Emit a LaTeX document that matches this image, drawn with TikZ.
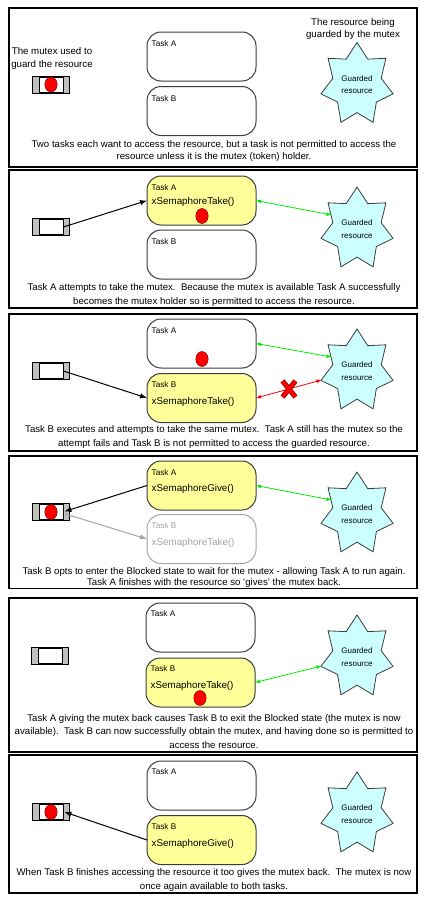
\documentclass[tikz,border=0pt]{standalone}
\usepackage{fontspec}
\setmainfont{Liberation Sans}
\usetikzlibrary{shapes.geometric,arrows.meta,calc}
\definecolor{taskyel}{RGB}{255,255,153}
\definecolor{starfill}{RGB}{204,255,255}
\definecolor{taskline}{RGB}{60,60,60}
\definecolor{mutexgray}{RGB}{192,192,192}
\definecolor{okgreen}{RGB}{0,235,0}
\definecolor{blockgray}{RGB}{165,165,165}
\definecolor{dotred}{RGB}{255,0,0}
% #1 name, #2 cx, #3 cy
\newcommand{\gstar}[3]{%
  \draw[starsty] ({#2},{#3-42})
    \foreach \k in {0,...,6}{
      -- ({#2+0.67*37*cos(90-\k*360/7-180/7)},{#3-0.67*42*sin(90-\k*360/7-180/7)})
      -- ({#2+37*cos(90-(\k+1)*360/7)},{#3-42*sin(90-(\k+1)*360/7)})
    } -- cycle;
  \node[startext] (#1) at (#2,#3) {Guarded\\resource};
  \coordinate (#1u) at ({#2-25.5},{#3-14});
  \coordinate (#1t) at ({#2-35.5},{#3+9});
}
\begin{document}
\begin{tikzpicture}[x=1pt,y=-1pt,
  panel/.style={draw=black, line width=1.3pt},
  task/.style={draw=taskline, line width=1pt, rounded corners=14pt, minimum width=109pt, minimum height=49pt, inner sep=0pt, outer sep=0pt, fill=white},
  active/.style={task, fill=taskyel},
  blocked/.style={task, draw=blockgray},
  tlabel/.style={anchor=west, inner sep=0pt, font=\fontsize{8.2}{10}\selectfont},
  fname/.style={anchor=west, inner sep=0pt, font=\fontsize{9.8}{11}\selectfont},
  caption/.style={align=center, inner sep=0pt, font=\fontsize{9.65}{13.5}\selectfont},
  toplabel/.style={align=center, inner sep=0pt, font=\fontsize{9.7}{12.5}\selectfont},
  mutexbox/.style={draw=black, line width=1pt, fill=mutexgray, minimum width=37pt, minimum height=17pt, inner sep=0pt},
  mutexin/.style={draw=black, line width=0.8pt, fill=white, minimum width=24pt, minimum height=15pt, inner sep=0pt},
  token/.style={ellipse, draw=black!60!red, line width=0.4pt, fill=dotred, minimum width=12.5pt, minimum height=15pt, inner sep=0pt},
  take/.style={draw=black, line width=1pt, -{Latex[length=7pt,width=5.5pt]}},
  access/.style={draw=okgreen, line width=0.8pt, {Latex[length=5pt,width=4pt]}-{Latex[length=5pt,width=4pt]}},
  startext/.style={align=center, inner sep=0pt, font=\fontsize{8}{12.5}\selectfont},
  starsty/.style={draw=taskline, line width=0.8pt, fill=starfill, line join=miter}
]
\useasboundingbox (0,0) rectangle (431,902);

% ---------------- Panel 1
\draw[panel] (9,8) rectangle (417,167);
\node[toplabel] (lm) at (52,58.5) {The mutex used to\\guard the resource};
\node[mutexbox] (m1) at (50.5,84.5) {};
\node[mutexin] (mi1) at (51,84.5) {};
\node[token] (d1) at (51,84.5) {};
\node[task] (a1) at (201.5,56.5) {};
\node[tlabel] (a1t) at (151.5,43.5) {Task A};
\node[task] (b1) at (201.5,111) {};
\node[tlabel] (b1t) at (151.5,98.5) {Task B};
\node[toplabel] (lr) at (353,29) {The resource being\\guarded by the mutex};
\gstar{s1}{357}{84.5}
\node[caption, font=\fontsize{9.65}{12}\selectfont] (c1) at (214,151) {Two tasks each want to access the resource, but a task is not permitted to access the\\resource unless it is the mutex (token) holder.};

% ---------------- Panel 2
\draw[panel] (9,170) rectangle (417,308);
\node[mutexbox] (m2) at (50.5,227) {};
\node[mutexin] (mi2) at (51,227) {};
\node[active] (a2) at (201.5,200.5) {};
\node[tlabel] (a2t) at (151.5,187.5) {Task A};
\node[fname] (a2f) at (151.5,201.5) {xSemaphoreTake()};
\node[token] (d2) at (202,216) {};
\node[task] (b2) at (201.5,254.5) {};
\node[tlabel] (b2t) at (151.5,242) {Task B};
\gstar{s2}{357}{229}
\draw[take] (mi2.east) -- (a2.west);
\draw[access] (a2.east) -- (s2u);
\node[caption] (c2) at (214,295) {Task A attempts to take the mutex.\ \ Because the mutex is available Task A successfully\\becomes the mutex holder so is permitted to access the resource.};

% ---------------- Panel 3
\draw[panel] (9,314) rectangle (417,451);
\node[mutexbox] (m3) at (50.5,371) {};
\node[mutexin] (mi3) at (51,371) {};
\node[task] (a3) at (201.5,343.5) {};
\node[tlabel] (a3t) at (151.5,331) {Task A};
\node[token] (d3) at (202,359) {};
\node[active] (b3) at (201.5,398) {};
\node[tlabel] (b3t) at (151.5,385) {Task B};
\node[fname] (b3f) at (151.5,402) {xSemaphoreTake()};
\gstar{s3}{357}{371}
\draw[take] (mi3.east) -- (b3.west);
\draw[access] (a3.east) -- (s3u);
\draw[access, draw=red] (b3.east) -- (s3t);
\coordinate (x3) at (289,389);
\draw[line width=5pt, draw=black!45!red] ($(x3)+(-6.5,-8)$) -- ($(x3)+(6.5,8)$) ($(x3)+(6.5,-8)$) -- ($(x3)+(-6.5,8)$);
\draw[line width=3.4pt, draw=red] ($(x3)+(-6.5,-8)$) -- ($(x3)+(6.5,8)$) ($(x3)+(6.5,-8)$) -- ($(x3)+(-6.5,8)$);
\node[caption] (c3) at (214,437) {Task B executes and attempts to take the same mutex.\ \ Task A still has the mutex so the\\attempt fails and Task B is not permitted to access the guarded resource.};

% ---------------- Panel 4
\draw[panel] (9,456) rectangle (417,588.5);
\node[mutexbox] (m4) at (50.5,512) {};
\node[mutexin] (mi4) at (51,512) {};
\node[token] (d4) at (51,512) {};
\node[active] (a4) at (201.5,485.5) {};
\node[tlabel] (a4t) at (151.5,472.5) {Task A};
\node[fname] (a4f) at (151.5,489) {xSemaphoreGive()};
\node[blocked] (b4) at (201.5,539) {};
\node[tlabel, text=blockgray] (b4t) at (151.5,526) {Task B};
\node[fname, text=blockgray] (b4f) at (151.5,542.5) {xSemaphoreTake()};
\gstar{s4}{357}{514}
\draw[take] (a4.west) -- ($(mi4.east)+(1,-0.5)$);
\draw[take, draw=blockgray] ($(mi4.east)+(2,2)$) -- (b4.west);
\draw[access] (a4.east) -- (s4u);
\node[caption, font=\fontsize{9.65}{11.2}\selectfont] (c4) at (214,577.5) {Task B opts to enter the Blocked state to wait for the mutex - allowing Task A to run again.\\Task A finishes with the resource so ‘gives’ the mutex back.};

% ---------------- Panel 5
\draw[panel] (9,598) rectangle (417,752);
\node[mutexbox] (m5) at (50,655.5) {};
\node[mutexin] (mi5) at (50.5,655.5) {};
\node[task] (a5) at (200.5,627.5) {};
\node[tlabel] (a5t) at (150.5,614) {Task A};
\node[active] (b5) at (200.5,682.5) {};
\node[tlabel] (b5t) at (150.5,668.5) {Task B};
\node[fname] (b5f) at (150.5,686) {xSemaphoreTake()};
\node[token] (d5) at (200,698) {};
\gstar{s5}{357}{657}
\draw[access] (b5.east) -- (s5t);
\node[caption] (c5) at (214,731.5) {Task A giving the mutex back causes Task B to exit the Blocked state (the mutex is now\\available).\ \ Task B can now successfully obtain the mutex, and having done so is permitted to\\access the resource.};

% ---------------- Panel 6
\draw[panel] (9,755) rectangle (417,893);
\node[mutexbox] (m6) at (50.5,812) {};
\node[mutexin] (mi6) at (51,812) {};
\node[token] (d6) at (51,812) {};
\node[task] (a6) at (201.5,785.5) {};
\node[tlabel] (a6t) at (151.5,772) {Task A};
\node[active] (b6) at (201.5,840) {};
\node[tlabel] (b6t) at (151.5,827) {Task B};
\node[fname] (b6f) at (151.5,844) {xSemaphoreGive()};
\gstar{s6}{357}{814}
\draw[take] (b6.west) -- ($(mi6.east)+(1,0)$);
\node[caption] (c6) at (214,880) {When Task B finishes accessing the resource it too gives the mutex back.\ \ The mutex is now\\once again available to both tasks.};
\end{tikzpicture}
\end{document}
